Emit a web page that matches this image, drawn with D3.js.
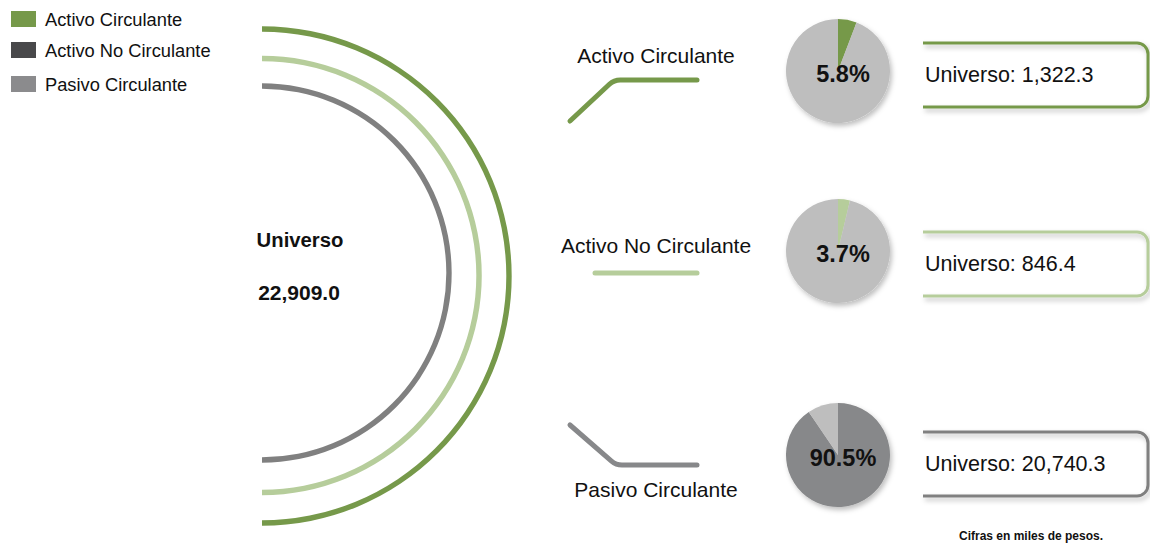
<!DOCTYPE html>
<html>
<head>
<meta charset="utf-8">
<script src="https://cdn.jsdelivr.net/npm/d3@7"></script>
<style>
  body { margin: 0; background: #fff; }
  svg { display: block; font-family: "Liberation Sans", Arial, sans-serif; }
</style>
</head>
<body>
<svg id="chart" width="1150" height="543"></svg>
<script>
// Data
const categories = ["Activo Circulante", "Activo No Circulante", "Pasivo Circulante"];
const universo = [1322.3, 846.4, 20740.3];   // miles de pesos
const shares = [5.8, 3.7, 90.5];             // % del universo
const universoTotal = 22909.0;
const legendLabels = ["Activo Circulante", "Activo No Circulante", "Pasivo Circulante"];

const seriesColor = ["#76994a", "#b6cd9b", "#87888a"];
const arcColor = ["#76994a", "#b6cd9b", "#808080"];
const legendColor = ["#76994a", "#48484a", "#8b8b8d"];
const restColor = "#bebebe";

const svg = d3.select("#chart");
const fmt = d3.format(",.1f");

// shadow filter for pies and boxes
const defs = svg.append("defs");
defs.append("filter").attr("id", "shadow")
  .attr("x", "-20%").attr("y", "-20%").attr("width", "150%").attr("height", "150%")
  .append("feDropShadow")
  .attr("dx", 2).attr("dy", 3).attr("stdDeviation", 2.5)
  .attr("flood-color", "#000").attr("flood-opacity", 0.25);

// legend
const legendY = [11, 42, 76];
const legend = svg.append("g");
legendLabels.forEach(function(d, i) {
  legend.append("rect")
    .attr("x", 11).attr("y", legendY[i]).attr("width", 25).attr("height", 16)
    .attr("fill", legendColor[i]);
  legend.append("text")
    .attr("x", 45).attr("y", legendY[i] + 15)
    .attr("font-size", 18.3).attr("fill", "#111")
    .text(d);
});

// big half rings (outer = Activo Circulante)
const ringRadius = d3.scaleOrdinal().domain(categories).range([247, 217, 187]);
const ringCenterY = [276, 275.5, 273];
categories.forEach(function(c, i) {
  const r = ringRadius(c);
  svg.append("path")
    .attr("transform", "translate(262," + ringCenterY[i] + ")")
    .attr("d", d3.arc().innerRadius(r - 2.7).outerRadius(r + 2.7)
      .startAngle(0).endAngle(Math.PI)())
    .attr("fill", arcColor[i]);
});

svg.append("text")
  .attr("x", 300).attr("y", 247).attr("text-anchor", "middle")
  .attr("font-size", 20.3).attr("font-weight", "bold").attr("fill", "#111")
  .text("Universo");
svg.append("text")
  .attr("x", 299).attr("y", 300).attr("text-anchor", "middle")
  .attr("font-size", 21).attr("font-weight", "bold").attr("fill", "#111")
  .text(fmt(universoTotal));

// connectors + labels
function connector(i) {
  const p = d3.path();
  if (i === 0) {
    p.moveTo(570, 121);
    p.arcTo(614, 80, 697, 80, 16);
    p.lineTo(697, 80);
  } else if (i === 1) {
    p.moveTo(595, 273);
    p.lineTo(697, 273);
  } else {
    p.moveTo(570, 425);
    p.arcTo(616, 465, 697, 465, 16);
    p.lineTo(697, 465);
  }
  return p.toString();
}
const labelY = [63, 253, 497];
categories.forEach(function(c, i) {
  svg.append("path")
    .attr("d", connector(i))
    .attr("fill", "none").attr("stroke", seriesColor[i])
    .attr("stroke-width", 5).attr("stroke-linecap", "round");
  svg.append("text")
    .attr("x", 656).attr("y", labelY[i]).attr("text-anchor", "middle")
    .attr("font-size", 21).attr("fill", "#111")
    .text(c);
});

// pies
const pieCY = [71, 251, 455];
const pie = d3.pie().sort(null);
const pieArc = d3.arc().innerRadius(0).outerRadius(52);
shares.forEach(function(s, i) {
  const g = svg.append("g")
    .attr("transform", "translate(838," + pieCY[i] + ")");
  const slices = g.append("g").attr("filter", "url(#shadow)");
  slices.selectAll("path")
    .data(pie([s, 100 - s]))
    .enter().append("path")
    .attr("d", pieArc)
    .attr("fill", function(d, j) { return j === 0 ? seriesColor[i] : restColor; });
  g.append("text")
    .attr("x", 5).attr("y", 11).attr("text-anchor", "middle")
    .attr("font-size", 23.5).attr("font-weight", "bold").attr("fill", "#111")
    .text(s.toFixed(1) + "%");
});

// open boxes with universe values
const boxTop = [43, 232, 432];
const boxH = 64;
universo.forEach(function(v, i) {
  const y0 = boxTop[i], y1 = y0 + boxH, xl = 923, xr = 1148, rr = 11;
  const p = d3.path();
  p.moveTo(xl, y0);
  p.lineTo(xr - rr, y0);
  p.arcTo(xr, y0, xr, y0 + rr, rr);
  p.lineTo(xr, y1 - rr);
  p.arcTo(xr, y1, xr - rr, y1, rr);
  p.lineTo(xl, y1);
  svg.append("path")
    .attr("d", p.toString())
    .attr("fill", "none").attr("stroke", arcColor[i])
    .attr("stroke-width", 3).attr("filter", "url(#shadow)");
  svg.append("text")
    .attr("x", 925).attr("y", y0 + 39)
    .attr("font-size", 21.5).attr("fill", "#111")
    .text("Universo: " + fmt(v));
});

svg.append("text")
  .attr("x", 1031).attr("y", 540).attr("text-anchor", "middle")
  .attr("font-size", 12).attr("font-weight", "bold").attr("fill", "#111")
  .text("Cifras en miles de pesos.");
</script>
</body>
</html>
